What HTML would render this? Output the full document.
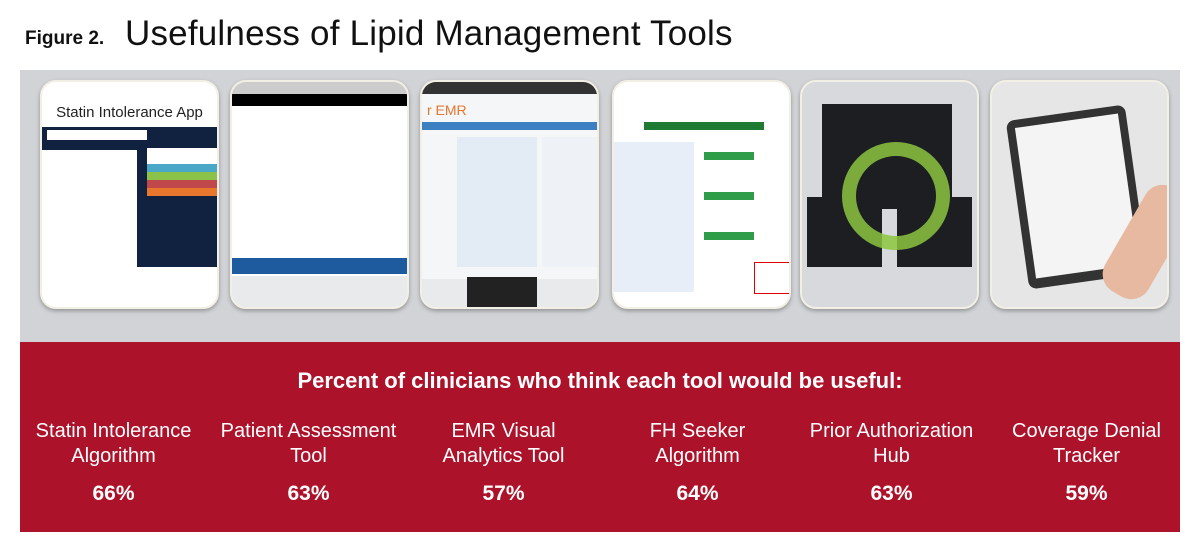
<!DOCTYPE html>
<html><head><style>
body{margin:0;width:1200px;height:553px;background:#fff;position:relative;overflow:hidden;font-family:"Liberation Sans",sans-serif}
.t1{position:absolute;left:25px;top:28px;font-size:19px;font-weight:bold;color:#111}
.t2{position:absolute;left:125px;top:14px;font-size:35px;color:#111;letter-spacing:0.2px}
.gray{position:absolute;left:20px;top:70px;width:1160px;height:272px;background:#d1d3d6}
.red{position:absolute;left:20px;top:342px;width:1160px;height:190px;background:#ac1229;color:#fff}
.card{position:absolute;top:80px;width:175px;height:225px;border-radius:16px;background:#e9eaec;border:2px solid #f2efe4;overflow:hidden;box-shadow:0 2px 4px rgba(0,0,0,.3)}
.h{position:absolute;top:26px;width:100%;text-align:center;font-size:22px;font-weight:bold}
.col{position:absolute;top:77px;width:195px;text-align:center;font-size:20px;line-height:25px}
.pct{position:absolute;top:140px;width:195px;text-align:center;font-size:21px;font-weight:bold}
.b{position:absolute}
</style></head><body>
<div class="t1">Figure 2.</div>
<div class="t2">Usefulness of Lipid Management Tools</div>
<div class="gray"></div>
<div class="card" style="left:40px;background:#fff">
 <div class="b" style="top:22px;width:100%;text-align:center;font-size:15px;color:#222">Statin Intolerance App</div>
 <div class="b" style="top:45px;left:0;width:175px;height:140px;background:#10223f"></div>
 <div class="b" style="top:48px;left:5px;width:100px;height:10px;background:#fff"></div>
 <div class="b" style="top:68px;left:0;width:95px;height:150px;background:#fff"></div>
 <div class="b" style="top:66px;left:105px;width:70px;height:16px;background:#fff"></div>
 <div class="b" style="top:82px;left:105px;width:70px;height:8px;background:#4aa7c8"></div>
 <div class="b" style="top:90px;left:105px;width:70px;height:8px;background:#8bc34a"></div>
 <div class="b" style="top:98px;left:105px;width:70px;height:8px;background:#c0474a"></div>
 <div class="b" style="top:106px;left:105px;width:70px;height:8px;background:#e8762c"></div>
</div>
<div class="card" style="left:230px">
 <div class="b" style="top:0;left:0;width:175px;height:12px;background:#ccc"></div>
 <div class="b" style="top:12px;left:0;width:175px;height:12px;background:#000"></div>
 <div class="b" style="top:24px;left:0;width:175px;height:170px;background:#fff"></div>
 <div class="b" style="top:176px;left:0;width:175px;height:16px;background:#1d5a9e"></div>
</div>
<div class="card" style="left:420px">
 <div class="b" style="top:0;left:0;width:175px;height:12px;background:#333"></div>
 <div class="b" style="top:12px;left:0;width:175px;height:185px;background:#f4f6f8"></div>
 <div class="b" style="top:20px;left:5px;font-size:14px;color:#e8762c">r EMR</div>
 <div class="b" style="top:40px;left:0;width:175px;height:8px;background:#3e7fc1"></div>
 <div class="b" style="top:55px;left:35px;width:80px;height:130px;background:#e3ebf5"></div>
 <div class="b" style="top:55px;left:120px;width:55px;height:130px;background:#eef2f6"></div>
 <div class="b" style="top:195px;left:45px;width:70px;height:30px;background:#222"></div>
</div>
<div class="card" style="left:612px;background:#fff">
 <div class="b" style="top:40px;left:30px;width:120px;height:8px;background:#1e7b34"></div>
 <div class="b" style="top:60px;left:0;width:80px;height:150px;background:#e7eef7"></div>
 <div class="b" style="top:70px;left:90px;width:50px;height:8px;background:#2e9c48"></div>
 <div class="b" style="top:110px;left:90px;width:50px;height:8px;background:#2e9c48"></div>
 <div class="b" style="top:150px;left:90px;width:50px;height:8px;background:#2e9c48"></div>
 <div class="b" style="top:180px;left:140px;width:35px;height:30px;border:1px solid #d00"></div>
</div>
<div class="card" style="left:800px;background:#d7d9dc">
 <div class="b" style="top:22px;left:20px;width:130px;height:105px;background:#1c1e22"></div>
 <div class="b" style="top:115px;left:5px;width:75px;height:70px;background:#1c1e22"></div>
 <div class="b" style="top:115px;left:95px;width:75px;height:70px;background:#1c1e22"></div>
 <div class="b" style="top:60px;left:40px;width:80px;height:80px;border-radius:50%;border:14px solid #8cc63f;opacity:.85"></div>
</div>
<div class="card" style="left:990px;background:#e6e6e6">
 <div class="b" style="top:30px;left:25px;width:120px;height:170px;background:#333;transform:rotate(-8deg);border-radius:8px"></div>
 <div class="b" style="top:38px;left:33px;width:104px;height:152px;background:#f4f4f4;transform:rotate(-8deg)"></div>
 <div class="b" style="top:100px;left:130px;width:50px;height:120px;background:#e7b9a0;border-radius:20px;transform:rotate(30deg)"></div>
</div>
<div class="red">
 <div class="h">Percent of clinicians who think each tool would be useful:</div>
 <div class="col" style="left:-4px">Statin Intolerance<br>Algorithm</div><div class="pct" style="left:-4px">66%</div>
 <div class="col" style="left:191px">Patient Assessment<br>Tool</div><div class="pct" style="left:191px">63%</div>
 <div class="col" style="left:386px">EMR Visual<br>Analytics Tool</div><div class="pct" style="left:386px">57%</div>
 <div class="col" style="left:580px">FH Seeker<br>Algorithm</div><div class="pct" style="left:580px">64%</div>
 <div class="col" style="left:774px">Prior Authorization<br>Hub</div><div class="pct" style="left:774px">63%</div>
 <div class="col" style="left:969px">Coverage Denial<br>Tracker</div><div class="pct" style="left:969px">59%</div>
</div>
</body></html>
